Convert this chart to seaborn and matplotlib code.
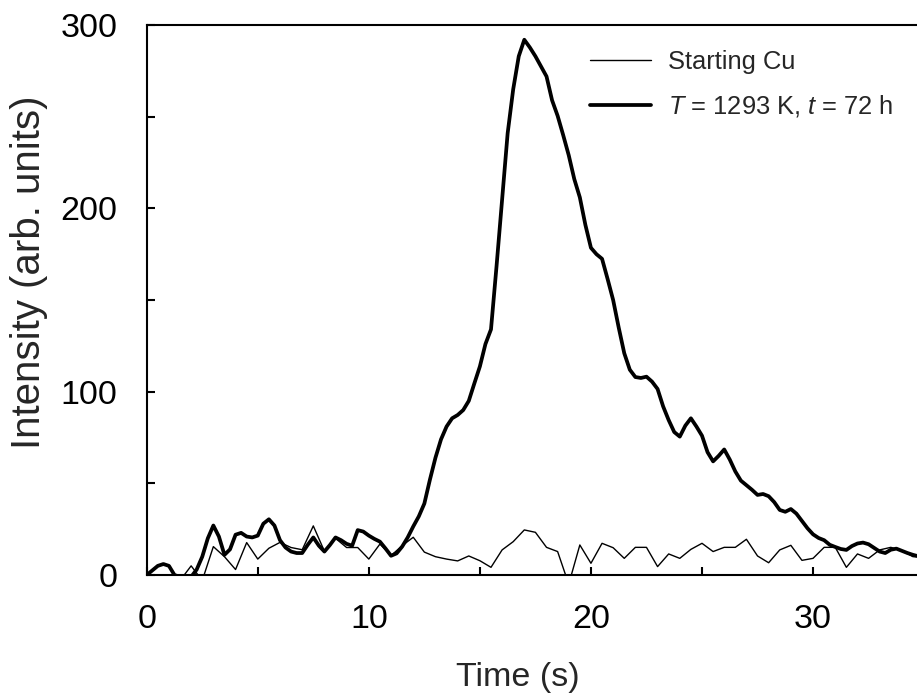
import numpy as np
import pandas as pd
import matplotlib
matplotlib.use("Agg")
import matplotlib.pyplot as plt
import seaborn as sns
from matplotlib.ticker import MultipleLocator

# Starting Cu (0.5 s steps)
time_cu = np.arange(0, 35.01, 0.5)
int_cu = [-2, -3, -2, -3, 5, -3, 15.5, 10, 3, 17.7, 8.7, 14.6, 17.8, 15, 13.8, 26.8,
          13, 20, 15, 15, 8.7, 16.9, 10.6, 16, 20.6, 12.5, 10, 8.7, 7.7, 10.4, 7.8,
          4.2, 13.7, 18.2, 24.6, 23.3, 15.1, 12.8, -5, 16.4, 6.4, 17.3, 14.9, 9.1,
          15.1, 15.1, 4.6, 11.5, 9.1, 14, 17.3, 12.8, 15.1, 15.1, 19.5, 10.4, 6.7,
          13.7, 16.2, 8, 9.1, 15.1, 15.1, 4.2, 11.5, 9.1, 13.7, 15.1, 13.3, 10, 10]

# T = 1293 K, t = 72 h (0.25 s steps)
time_ht = np.arange(0, 35.01, 0.25)
int_ht = [0, 2.5, 5, 6, 5, 0, -1, -1, -1, 3, 10, 20, 27, 21, 11, 14,
          22, 23, 21, 20.5, 21.5, 28, 30.4, 27, 19, 15, 12.8, 12, 12, 16.5, 20.5, 16,
          12.8, 16.4, 20.5, 19, 17, 16, 24.5, 23.7, 21.5, 19.7, 18.2, 14.5, 10.5, 11.8,
          15.5, 20.5, 26.5, 32, 39, 52, 64, 74, 81, 85.5, 87.3, 90, 95, 104.5, 113.8,
          126, 134, 168.5, 205, 241, 265, 283, 292, 287.8, 283, 277.5, 272, 259, 250.5,
          240, 229, 216, 206, 191, 178.5, 175, 172.5, 161.5, 150, 135, 121, 112, 108,
          107.5, 108.2, 105.5, 101.5, 92, 84.5, 78, 75.5, 81.5, 85.5, 81, 76, 67, 62,
          65, 68.5, 63, 56.5, 51.5, 49, 46.5, 43.7, 44.2, 43, 39.8, 35.5, 34.5, 36,
          33.5, 29.5, 25.5, 22.2, 20.2, 19, 16.5, 15.3, 14.2, 13.7, 15.8, 17.2, 17.7,
          16.8, 14.8, 12.8, 12, 13.8, 14.4, 13.2, 12, 11, 10.2, 10]

sns.set_style("ticks")
plt.rcParams['font.family'] = ['Liberation Sans', 'DejaVu Sans']
plt.rcParams['mathtext.fontset'] = 'custom'
plt.rcParams['mathtext.rm'] = 'Liberation Sans'
plt.rcParams['mathtext.it'] = 'Liberation Sans:italic'

df_cu = pd.DataFrame({'Time': time_cu, 'Intensity': int_cu})
df_ht = pd.DataFrame({'Time': time_ht, 'Intensity': int_ht})

fig = plt.figure(figsize=(9.17, 6.97), dpi=100)
ax = fig.add_axes([0.160, 0.175, 0.840, 0.789])

sns.lineplot(data=df_cu, x='Time', y='Intensity', ax=ax, color='black', lw=1.0,
             sort=False, estimator=None, label='Starting Cu')
sns.lineplot(data=df_ht, x='Time', y='Intensity', ax=ax, color='black', lw=2.7,
             sort=False, estimator=None, label=r'$\it{T}$ = 1293 K, $\it{t}$ = 72 h')

ax.set_xlim(0, 34.68)
ax.set_ylim(0, 300)
ax.set_xticks([0, 10, 20, 30])
ax.set_yticks([0, 100, 200, 300])
ax.xaxis.set_minor_locator(MultipleLocator(5))
ax.yaxis.set_minor_locator(MultipleLocator(50))
ax.tick_params(which='both', direction='in', length=5.8, width=1.5, pad=21,
               labelsize=24.5, colors='black')
for side in ['left', 'bottom', 'top']:
    ax.spines[side].set_linewidth(1.5)
    ax.spines[side].set_color('black')
ax.spines['right'].set_visible(False)

ax.set_xlabel('Time (s)', fontsize=24.5)
ax.set_ylabel('Intensity (arb. units)', fontsize=29)
ax.xaxis.set_label_coords(0.482, -0.158)
ax.yaxis.set_label_coords(-0.153, 0.551)
ax.yaxis.label.set_va('center')

ax.legend(loc='upper left', bbox_to_anchor=(0.575, 0.955), frameon=False,
          fontsize=18.4, handlelength=2.4, handletextpad=0.66, labelspacing=0.75,
          borderpad=0, borderaxespad=0)

fig.savefig('out.png', dpi=100)
